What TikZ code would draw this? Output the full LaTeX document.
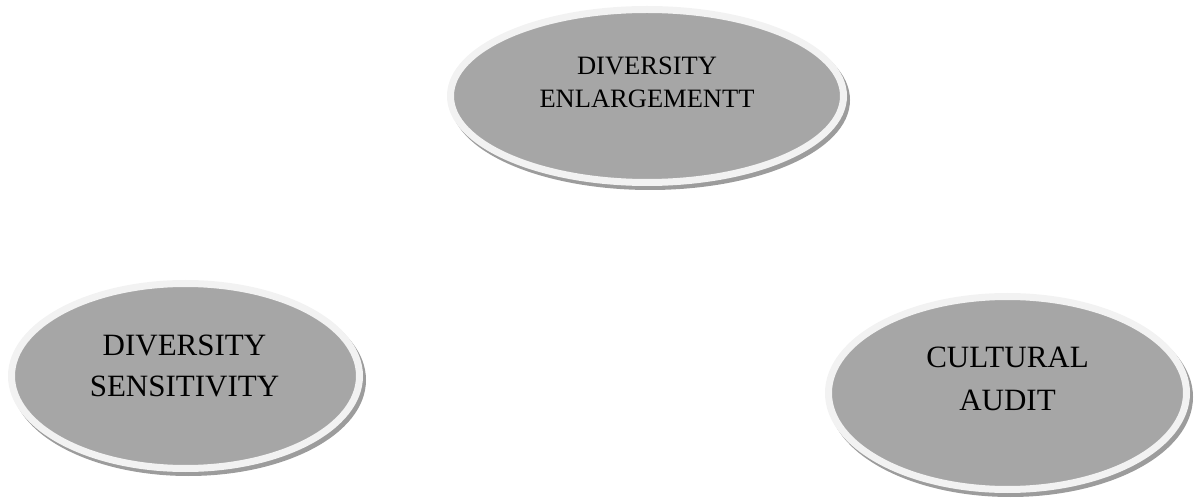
\documentclass[tikz,border=0pt]{standalone}
\usepackage{fontspec}
\setmainfont{Liberation Serif}
\usetikzlibrary{shapes.geometric}
\definecolor{bubblefill}{HTML}{A6A6A6}
\definecolor{bubblerim}{HTML}{F2F2F2}
\definecolor{bubbleshade}{HTML}{9C9C9C}
\begin{document}
\begin{tikzpicture}[x=1pt,y=1pt,
  bubble/.style={ellipse, fill=bubblefill, draw=bubblerim, line width=7pt, inner sep=0pt,
    preaction={fill=bubbleshade, draw=bubbleshade, line width=7pt,
      transform canvas={shift={(3pt,-4pt)}}}},
  caption/.style={align=center, inner sep=0pt, text=black}]
\useasboundingbox (0,0) rectangle (1194,501);

% top bubble
\node[bubble, minimum width=393pt, minimum height=173pt] (enlarge) at (647,405) {};
\node[caption, font=\fontsize{26.5}{33}\selectfont] (enlargetext) at (647,419)
  {DIVERSITY\\ENLARGEMENTT};

% left bubble
\node[bubble, minimum width=348pt, minimum height=185pt] (sensitivity) at (185.5,125) {};
\node[caption, font=\fontsize{31}{41}\selectfont] (sensitivitytext) at (184.5,135.5)
  {DIVERSITY\\SENSITIVITY};

% right bubble
\node[bubble, minimum width=358pt, minimum height=193pt] (audit) at (1007.5,108) {};
\node[caption, font=\fontsize{31}{43}\selectfont] (audittext) at (1007.5,122)
  {CULTURAL\\AUDIT};
\end{tikzpicture}
\end{document}
